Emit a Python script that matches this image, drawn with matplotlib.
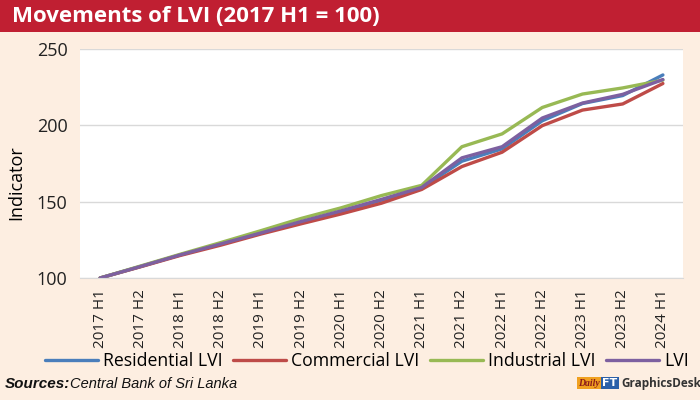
import matplotlib
matplotlib.use("Agg")
import matplotlib.pyplot as plt
from matplotlib.patches import Rectangle

periods = ["2017 H1", "2017 H2", "2018 H1", "2018 H2", "2019 H1", "2019 H2", "2020 H1",
           "2020 H2", "2021 H1", "2021 H2", "2022 H1", "2022 H2", "2023 H1", "2023 H2", "2024 H1"]
residential = [100, 107.5, 115.2, 122.3, 129.5, 136.5, 143.5, 151.0, 159.0, 176.5, 184.6, 203.0, 214.3, 219.5, 233.0]
commercial  = [100, 107.3, 114.8, 121.5, 128.8, 135.5, 142.0, 149.0, 158.0, 173.0, 182.4, 199.8, 210.0, 214.0, 227.4]
industrial  = [100, 107.8, 115.6, 123.2, 131.0, 139.0, 146.0, 154.0, 160.7, 186.0, 194.4, 211.7, 220.5, 224.5, 229.6]
lvi         = [100, 107.5, 115.2, 122.3, 129.5, 137.0, 144.0, 151.5, 159.3, 178.7, 186.0, 204.8, 214.6, 220.3, 230.0]

names = ["Residential LVI", "Commercial LVI", "Industrial LVI", "LVI"]
colors = ["#4a7ebb", "#be4b48", "#98b954", "#7d60a0"]
series = [residential, commercial, industrial, lvi]

bg = "#fdeee1"
fig = plt.figure(figsize=(7, 4), dpi=100, facecolor=bg)

# title banner
fig.patches.append(Rectangle((0, 1 - 32/400), 1, 32/400, transform=fig.transFigure,
                             facecolor="#c01f32", edgecolor="none", zorder=0))
fig.text(12/700, 1 - 16/400, "Movements of LVI (2017 H1 = 100)", color="white",
         fontsize=16, fontweight="bold", family="Open Sans", va="center", ha="left")

ax = fig.add_axes([80/700, 1 - 278/400, 603/700, 229/400])
ax.set_facecolor("white")
x = list(range(len(periods)))
for s, n, c in zip(series, names, colors):
    ax.plot(x, s, color=c, lw=2.4, label=n, solid_capstyle="round")

ax.set_xlim(-0.5, 14.5)
ax.set_ylim(100, 250)
ax.set_yticks([100, 150, 200, 250])
ax.grid(axis="y", color="#d9d9d9", lw=1)
ax.set_axisbelow(True)
ax.set_xticks(x)
ax.set_xticklabels(periods, rotation=90, fontsize=11, family="Open Sans")
for lab in ax.get_yticklabels():
    lab.set_fontsize(13)
    lab.set_family("Open Sans")
ax.tick_params(axis="y", length=0, pad=9, colors="#222222")
ax.tick_params(axis="x", length=0, pad=8, colors="#222222")
for sp in ["top", "right", "left"]:
    ax.spines[sp].set_visible(False)
ax.spines["bottom"].set_color("#d9d9d9")
ax.set_ylabel("Indicator", fontsize=13, family="Open Sans")
ax.yaxis.set_label_coords(-0.09, 0.415)

leg = fig.legend(loc="center", bbox_to_anchor=(367/700, 1 - 361/400), ncol=4, frameon=False,
                 prop={"family": "Open Sans", "size": 12.7}, handlelength=3.0,
                 columnspacing=0.6, handletextpad=0.3)

fig.text(5/700, 1 - 384/400, "Sources:", fontsize=11, fontweight="bold", style="italic",
         family="Liberation Sans", va="center", ha="left", color="#111111")
fig.text(70/700, 1 - 384/400, "Central Bank of Sri Lanka", fontsize=10.5, style="italic",
         family="Liberation Sans", va="center", ha="left", color="#111111")
fig.text(600/700, 1 - 383/400, "Daily", fontsize=7, style="italic", fontweight="bold",
         color="#8b1a1a", va="center", ha="right", family="Liberation Serif",
         bbox=dict(facecolor="#f0a020", edgecolor="none", pad=1))
fig.text(610/700, 1 - 383/400, "FT", fontsize=8, fontweight="bold", color="white",
         va="center", ha="center", bbox=dict(facecolor="#2a5fa8", edgecolor="none", pad=1))
fig.text(621/700, 1 - 383/400, "GraphicsDesk", fontsize=8.5, fontweight="bold",
         color="#333333", va="center", ha="left", family="Open Sans")

fig.savefig("out.png", dpi=100, facecolor=bg)
